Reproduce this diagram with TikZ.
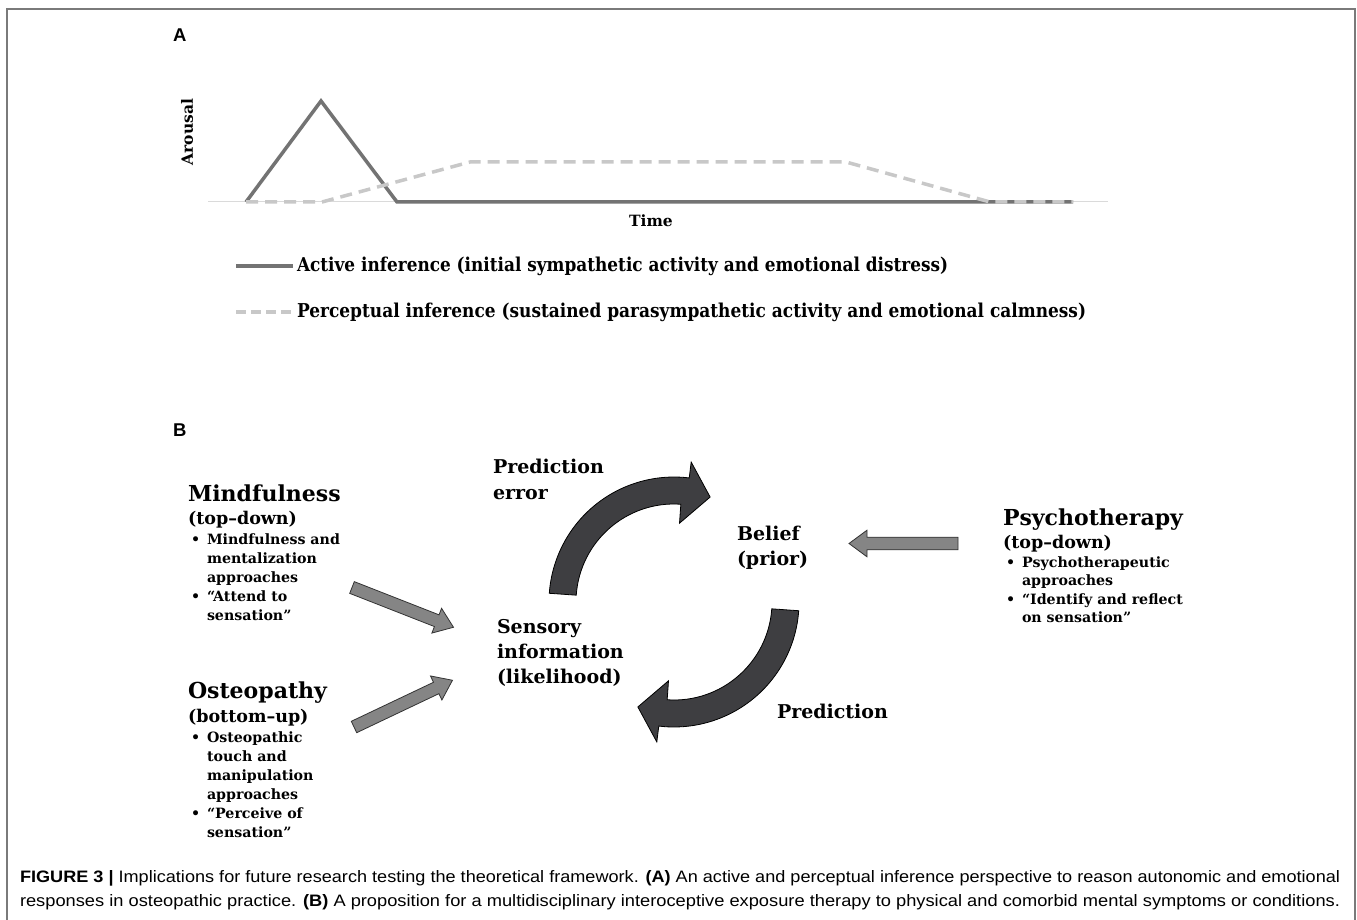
\documentclass[tikz,border=0pt]{standalone}
\usepackage{fontspec}
\setmainfont{DejaVu Serif}
\newfontfamily\capfont{Liberation Sans}
\definecolor{activec}{HTML}{737373}
\definecolor{percc}{HTML}{C8C8C8}
\definecolor{basec}{HTML}{DADADA}
\definecolor{curvc}{HTML}{3E3E41}
\definecolor{blockc}{HTML}{858585}
\definecolor{framec}{HTML}{7A7A7A}
\tikzset{
  baseln/.style={basec, line width=1pt},
  activeln/.style={activec, line width=3.5pt},
  percln/.style={percc, line width=3.5pt, dash pattern=on 12pt off 7pt},
  lbl/.style={anchor=base west, inner sep=0pt, outer sep=0pt},
  ttl/.style={lbl, font=\bfseries\fontsize{22}{22}\selectfont},
  subttl/.style={lbl, font=\bfseries\fontsize{17.5}{17.5}\selectfont},
  itm/.style={lbl, font=\bfseries\fontsize{14.2}{14.2}\selectfont},
  ctr/.style={lbl, font=\bfseries\fontsize{19}{19}\selectfont},
  axl/.style={inner sep=0pt, font=\bfseries\fontsize{15.5}{15.5}\selectfont},
  panl/.style={lbl, font=\capfont\bfseries\fontsize{18.5}{18.5}\selectfont},
  barrow/.style={fill=blockc, draw=black!80, line width=0.8pt, line join=miter},
  carrow/.style={fill=curvc, draw=black, line width=0.8pt, line join=miter},
  blockarr/.pic={\draw[barrow] (0,-6.3) -- (91,-6.3) -- (91,-13.3) -- (109,0) -- (91,13.3) -- (91,6.3) -- (0,6.3) -- cycle;},
  curvarr/.pic={\draw[carrow] (176:125) arc[start angle=176, end angle=83, radius=125] -- (83:141) -- (71:111) -- (86:79) -- (86:98) arc[start angle=86, end angle=176, radius=98] -- cycle;}
}
\begin{document}
\begin{tikzpicture}[x=1pt,y=1pt]
\useasboundingbox (0,0) rectangle (1357,-920);
\fill[white] (0,0) rectangle (1357,-920);
% frame
\draw[framec, line width=1.5pt] (7,-920) -- (7,-9) -- (1355,-9) -- (1355,-920);

% ---------- Panel A ----------
\node[panl] (labA) at (173,-42) {A};
\draw[baseln] (208,-202) -- (1108,-202);
\draw[activeln] (246,-202) -- (321,-101) -- (397,-202) -- (1073,-202);
\draw[percln] (246,-202) -- (322,-202) -- (470,-162) -- (846,-162) -- (990,-202) -- (1073,-202);
\node[axl, rotate=90] (arousal) at (187,-132) {Arousal};
\node[axl, anchor=base] (time) at (651,-226) {Time};

% legend
\draw[activeln] (236,-266) -- (293,-266);
\node[lbl] (leg1) at (297,-271) {\resizebox{651pt}{14.5pt}{\bfseries Active inference (initial sympathetic activity and emotional distress)}};
\draw[percln, dash pattern=on 10pt off 5pt] (236,-312) -- (291,-312);
\node[lbl] (leg2) at (297,-317) {\resizebox{789pt}{14.5pt}{\bfseries Perceptual inference (sustained parasympathetic activity and emotional calmness)}};

% ---------- Panel B ----------
\node[panl] (labB) at (173,-436) {B};

% Mindfulness
\node[ttl] (mind) at (188,-501) {Mindfulness};
\node[subttl] (mind2) at (188,-524) {(top--down)};
\node[itm] (mb1) at (191,-544) {•};
\node[itm] (m1) at (207,-544) {Mindfulness and};
\node[itm] (m2) at (207,-563) {mentalization};
\node[itm] (m3) at (207,-582) {approaches};
\node[itm] (mb2) at (191,-601) {•};
\node[itm] (m4) at (207,-601) {“Attend to};
\node[itm] (m5) at (207,-620) {sensation”};

% Osteopathy
\node[ttl] (ost) at (188,-698) {Osteopathy};
\node[subttl] (ost2) at (188,-722) {(bottom--up)};
\node[itm] (ob1) at (191,-742) {•};
\node[itm] (o1) at (207,-742) {Osteopathic};
\node[itm] (o2) at (207,-761) {touch and};
\node[itm] (o3) at (207,-780) {manipulation};
\node[itm] (o4) at (207,-799) {approaches};
\node[itm] (ob2) at (191,-818) {•};
\node[itm] (o5) at (207,-818) {“Perceive of};
\node[itm] (o6) at (207,-837) {sensation”};

% Psychotherapy
\node[ttl] (psy) at (1003,-525) {Psychotherapy};
\node[subttl] (psy2) at (1003,-548) {(top--down)};
\node[itm] (pb1) at (1006,-567) {•};
\node[itm] (p1) at (1022,-567) {Psychotherapeutic};
\node[itm] (p2) at (1022,-585) {approaches};
\node[itm] (pb2) at (1006,-604) {•};
\node[itm] (p3) at (1022,-604) {“Identify and reflect};
\node[itm] (p4) at (1022,-622) {on sensation”};

% centre labels
\node[ctr] (pe1) at (493,-473) {Prediction};
\node[ctr] (pe2) at (493,-499) {error};
\node[ctr] (bel1) at (737,-540) {Belief};
\node[ctr] (bel2) at (737,-565) {(prior)};
\node[ctr] (sen1) at (497,-633) {Sensory};
\node[ctr] (sen2) at (497,-658) {information};
\node[ctr] (sen3) at (497,-683) {(likelihood)};
\node[ctr] (pred) at (777,-718) {Prediction};

% curved arrows
\pic at (674,-602) {curvarr};
\pic[rotate=180] at (674,-602) {curvarr};

% block arrows
\pic[rotate=-21.4] at (352,-587.5) {blockarr};
\pic[rotate=25.4] at (354,-727) {blockarr};
\pic[rotate=180] at (958,-543.5) {blockarr};

% caption
\node[lbl] (cap1) at (20,-882) {\resizebox{1320pt}{12pt}{\capfont\fontsize{16}{16}\selectfont\textbf{FIGURE 3 |} Implications for future research testing the theoretical framework. \textbf{(A)} An active and perceptual inference perspective to reason autonomic and emotional}};
\node[lbl] (cap2) at (20,-906) {\resizebox{1320pt}{12pt}{\capfont\fontsize{16}{16}\selectfont responses in osteopathic practice. \textbf{(B)} A proposition for a multidisciplinary interoceptive exposure therapy to physical and comorbid mental symptoms or conditions.}};
\end{tikzpicture}
\end{document}
